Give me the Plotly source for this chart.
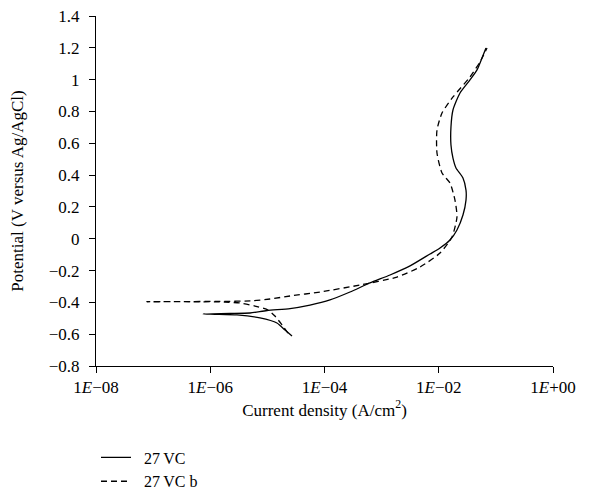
import plotly.graph_objects as go

# 27 VC (solid) : current density (A/cm^2) vs potential (V vs Ag/AgCl)
vc_logi = [-4.569, -4.691, -4.832, -5.129, -5.532, -5.917, -6.127,
           -5.654, -5.304, -5.007, -4.604, -4.254, -3.904, -3.554, -3.204,
           -2.853, -2.503, -2.153, -1.978, -1.803, -1.681, -1.576, -1.523,
           -1.523, -1.576, -1.698, -1.751, -1.786, -1.786, -1.751, -1.628,
           -1.453, -1.330, -1.243, -1.173]
vc_E = [-0.611, -0.574, -0.530, -0.498, -0.479, -0.475, -0.473,
        -0.470, -0.467, -0.451, -0.439, -0.417, -0.385, -0.335, -0.278,
        -0.228, -0.171, -0.096, -0.058, -0.008, 0.055, 0.149, 0.243,
        0.306, 0.382, 0.445, 0.507, 0.589, 0.702, 0.809, 0.916,
        0.998, 1.061, 1.136, 1.199]

# 27 VC b (dashed)
vcb_logi = [-4.639, -4.744, -4.867, -4.989, -5.217, -5.479, -5.742, -6.354,
            -7.107, -6.530, -5.829, -5.252, -4.954, -4.604, -4.079, -3.379,
            -2.731, -2.328, -1.978, -1.768, -1.681, -1.716, -1.803, -1.943,
            -2.031, -2.031, -1.943, -1.751, -1.453, -1.278, -1.155]
vcb_E = [-0.593, -0.542, -0.486, -0.448, -0.423, -0.404, -0.398, -0.396,
         -0.396, -0.395, -0.394, -0.390, -0.379, -0.360, -0.335, -0.291,
         -0.241, -0.178, -0.090, 0.011, 0.137, 0.243, 0.350, 0.413,
         0.539, 0.683, 0.790, 0.891, 1.017, 1.111, 1.199]

x_tickvals = [1e-8, 1e-6, 1e-4, 1e-2, 1e0]
x_ticktext = ["1<i>E</i>\u221208", "1<i>E</i>\u221206", "1<i>E</i>\u221204",
              "1<i>E</i>\u221202", "1<i>E</i>+00"]
y_tickvals = [1.4, 1.2, 1.0, 0.8, 0.6, 0.4, 0.2, 0.0, -0.2, -0.4, -0.6, -0.8]
y_ticktext = ["1.4", "1.2", "1", "0.8", "0.6", "0.4", "0.2", "0",
              "\u22120.2", "\u22120.4", "\u22120.6", "\u22120.8"]
series_names = ["\u200227\u2009VC", "\u200227\u2009VC b"]

FONT = "Liberation Serif"

fig = go.Figure()
fig.add_trace(go.Scatter(
    x=[10 ** v for v in vc_logi], y=vc_E, mode="lines",
    line=dict(color="black", width=1.3, shape="spline", smoothing=0.6),
    name=series_names[0]))
fig.add_trace(go.Scatter(
    x=[10 ** v for v in vcb_logi], y=vcb_E, mode="lines",
    line=dict(color="black", width=1.3, dash="6px,4px", shape="spline", smoothing=0.6),
    name=series_names[1]))

# page body has an 8px default margin, so the figure is 8px smaller
fig.update_layout(
    width=588, height=487,
    margin=dict(l=88, r=43, t=8, b=129, autoexpand=False),
    paper_bgcolor="white", plot_bgcolor="white",
    font=dict(family=FONT, size=17, color="black"),
    showlegend=True,
    legend=dict(x=0.0, y=-0.213, xanchor="left", yanchor="top",
                bgcolor="rgba(0,0,0,0)", font=dict(family=FONT, size=16),
                tracegroupgap=0),
    xaxis=dict(type="log", range=[-8, 0], tickvals=x_tickvals, ticktext=x_ticktext,
               showgrid=False, zeroline=False, showline=True, linecolor="black",
               linewidth=1, ticks="outside", ticklen=6, tickcolor="black",
               automargin=False, ticklabeloverflow="allow",
               tickfont=dict(family=FONT, size=17),
               title=dict(text="Current density (A/cm<sup>2</sup>)", standoff=6,
                          font=dict(family=FONT, size=17))),
    yaxis=dict(range=[-0.8, 1.4], tickvals=y_tickvals, ticktext=y_ticktext,
               showgrid=False, zeroline=False, showline=True, linecolor="black",
               linewidth=1, ticks="outside", ticklen=6, tickcolor="black",
               ticklabelstandoff=6, ticklabeloverflow="allow",
               automargin=False,
               tickfont=dict(family=FONT, size=17),
               title=dict(text="Potential (V versus Ag/AgCl)", standoff=22,
                          font=dict(family=FONT, size=17))),
)

fig.write_html("out.html")
